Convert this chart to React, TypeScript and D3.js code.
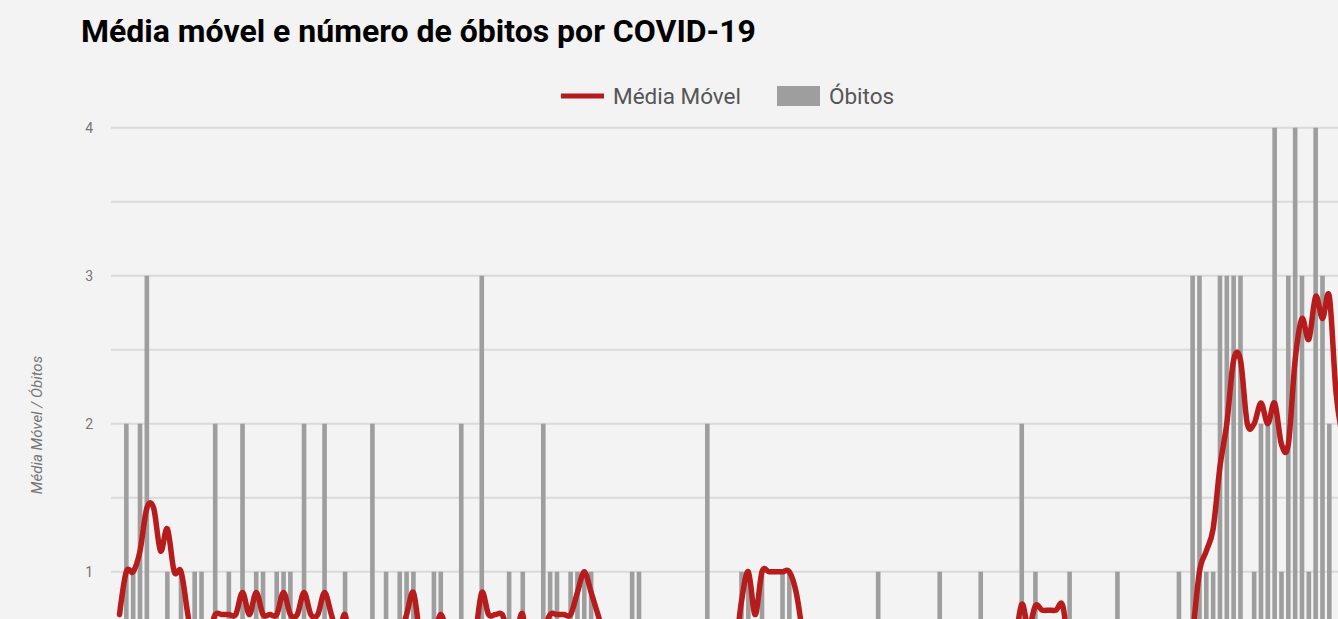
import * as d3 from 'd3'

// óbitos diários (um valor por dia)
const obitos = [
  0, 2, 1, 2, 3, 0, 0, 1, 0, 1,
  0, 1, 1, 0, 2, 0, 1, 0, 2, 0,
  1, 1, 0, 1, 1, 1, 0, 2, 0, 0,
  2, 0, 0, 1, 0, 0, 0, 2, 0, 1,
  0, 1, 1, 1, 0, 0, 1, 1, 0, 0,
  2, 0, 0, 3, 0, 0, 0, 1, 0, 1,
  0, 0, 2, 1, 1, 0, 1, 1, 1, 1,
  0, 0, 0, 0, 0, 1, 1, 0, 0, 0,
  0, 0, 0, 0, 0, 0, 2, 0, 0, 0,
  0, 1, 1, 0, 1, 0, 0, 1, 1, 0,
  0, 0, 0, 0, 0, 0, 0, 0, 0, 0,
  0, 1, 0, 0, 0, 0, 0, 0, 0, 0,
  1, 0, 0, 0, 0, 0, 1, 0, 0, 0,
  0, 0, 2, 0, 1, 0, 0, 0, 0, 1,
  0, 0, 0, 0, 0, 0, 1, 0, 0, 0,
  0, 0, 0, 0, 0, 1, 0, 3, 3, 1,
  1, 3, 3, 3, 3, 0, 1, 2, 2, 4,
  1, 3, 4, 3, 1, 4, 3, 2, 0, 0,
]

// média móvel
const mediaMovel = [
  0.71, 1.0, 1.0, 1.14, 1.43, 1.43, 1.14, 1.29, 1.0, 1.0,
  0.71, 0.43, 0.57, 0.57, 0.71, 0.71, 0.71, 0.71, 0.86, 0.71,
  0.86, 0.71, 0.71, 0.71, 0.86, 0.71, 0.71, 0.86, 0.71, 0.71,
  0.86, 0.71, 0.57, 0.71, 0.43, 0.43, 0.43, 0.43, 0.43, 0.57,
  0.43, 0.57, 0.71, 0.86, 0.57, 0.57, 0.57, 0.71, 0.57, 0.43,
  0.57, 0.57, 0.57, 0.86, 0.71, 0.71, 0.71, 0.57, 0.57, 0.71,
  0.29, 0.29, 0.57, 0.71, 0.71, 0.71, 0.71, 0.86, 1.0, 0.86,
  0.71, 0.57, 0.57, 0.43, 0.29, 0.29, 0.29, 0.29, 0.29, 0.29,
  0.29, 0.29, 0.14, 0, 0, 0, 0.29, 0.29, 0.29, 0.29,
  0.43, 0.8, 1.0, 0.71, 1.0, 1.0, 1.0, 1.0, 1.0, 0.86,
  0.57, 0.29, 0.29, 0.29, 0.14, 0, 0, 0, 0, 0,
  0, 0.14, 0.14, 0.14, 0.14, 0.14, 0.14, 0.14, 0, 0,
  0.14, 0.14, 0.14, 0.14, 0.14, 0.14, 0.29, 0.14, 0.14, 0.14,
  0.14, 0.5, 0.78, 0.62, 0.77, 0.74, 0.74, 0.74, 0.77, 0.43,
  0.29, 0.14, 0.14, 0.14, 0.14, 0.14, 0.14, 0.14, 0.14, 0.14,
  0.14, 0.14, 0.14, 0, 0, 0.14, 0.14, 0.57, 1.0, 1.14,
  1.29, 1.71, 2.0, 2.43, 2.43, 2.0, 2.0, 2.14, 2.0, 2.14,
  1.86, 1.86, 2.43, 2.71, 2.57, 2.86, 2.71, 2.86, 2.2, 1.9,
]

const gridTicks = [0.5, 1, 1.5, 2, 2.5, 3, 3.5, 4]
const tickLabels = [1, 2, 3, 4]

const W = 1338
const H = 619
const font = 'Roboto, sans-serif'

export default function App() {
  const dias = obitos.map((_, i) => i)

  const x = d3.scalePoint<number>().domain(dias).range([119.5, 1343])
  const y = d3.scaleLinear().domain([0, 4]).range([719.7, 127.7])
  const barW = 4.6
  const plotLeft = 111

  const line = d3
    .line<number>()
    .x((_, i) => x(i) as number)
    .y((d) => y(d))
    .curve(d3.curveCardinal.tension(0))

  return (
    <svg
      width={W}
      height={H}
      style={{ position: 'absolute', left: 0, top: 0, display: 'block' }}
      fontFamily={font}
    >
      <rect width={W} height={H} fill="#f3f3f3" />

      {/* title */}
      <text x={81} y={42} fontSize={32} fontWeight={700} fill="#000">
        Média móvel e número de óbitos por COVID-19
      </text>

      {/* legend */}
      <line x1={561} x2={604} y1={96} y2={96} stroke="#b71c1c" strokeWidth={5} />
      <text x={613} y={96} dy="0.35em" fontSize={22.5} fill="#555">
        Média Móvel
      </text>
      <rect x={777} y={86} width={43} height={20} fill="#9e9e9e" />
      <text x={829} y={96} dy="0.35em" fontSize={22.5} fill="#555">
        Óbitos
      </text>

      {/* grid */}
      {gridTicks.map((t) => (
        <line key={t} x1={plotLeft} x2={W} y1={y(t)} y2={y(t)} stroke="#dadada" strokeWidth={2} />
      ))}
      {tickLabels.map((t) => (
        <text key={t} x={93} y={y(t)} dy="0.35em" textAnchor="end" fontSize={14} fill="#757575">
          {t}
        </text>
      ))}

      {/* y axis title */}
      <text
        transform={`translate(42,425) rotate(-90)`}
        textAnchor="middle"
        fontSize={15}
        fontStyle="italic"
        fill="#757575"
      >
        Média Móvel / Óbitos
      </text>

      {/* bars */}
      {obitos.map((v, i) =>
        v > 0 ? (
          <rect
            key={i}
            x={(x(i) as number) - barW / 2}
            y={y(v)}
            width={barW}
            height={y(0) - y(v)}
            fill="#9e9e9e"
          />
        ) : null
      )}

      {/* moving average */}
      <path
        d={line(mediaMovel) || ''}
        fill="none"
        stroke="#b71c1c"
        strokeWidth={5.5}
        strokeLinejoin="round"
        strokeLinecap="round"
      />
    </svg>
  )
}
